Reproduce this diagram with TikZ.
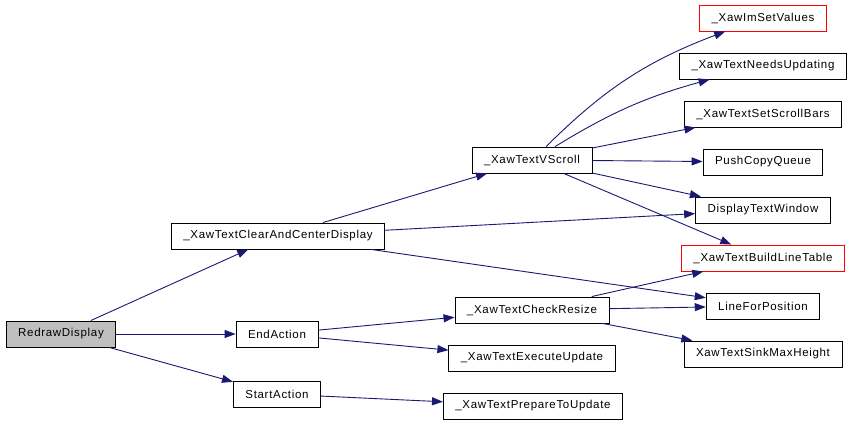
\documentclass[tikz,border=0pt]{standalone}
\usepackage{fontspec}
\setmainfont{Liberation Sans}[LetterSpace=6]
\usepackage{tikz}
\usetikzlibrary{arrows.meta}
\definecolor{edgeblue}{HTML}{191970}
\tikzstyle{arrow} = [edgeblue,line width=0.9pt,->,>={Triangle[length=11pt,width=8pt]}]
\tikzset{
 fn/.style
  = {rectangle, draw=black, line width=0.9pt, fill=white, inner xsep=12pt,
     minimum height=26pt, font=\fontsize{11.5}{13}\selectfont},
 root/.style
  = {fn, fill=black!25},
 ext/.style
  = {fn, draw=red},
}
\begin{document}
\begin{tikzpicture}[x=1pt,y=-1pt]
\useasboundingbox (0,0) rectangle (855,422);

% Caller
\node[root] (redraw) at (61,334) {RedrawDisplay};

% First level
\node[fn] (clear) at (278,236) {\_XawTextClearAndCenterDisplay};
\node[fn] (endact) at (277,334) {EndAction};
\node[fn] (startact) at (277,394) {StartAction};

% Second level
\node[fn] (vscroll) at (532,160) {\_XawTextVScroll};
\node[fn] (resize) at (532,310) {\_XawTextCheckResize};
\node[fn] (execute) at (532,358) {\_XawTextExecuteUpdate};
\node[fn] (prepare) at (533,406) {\_XawTextPrepareToUpdate};

% Third level
\node[ext] (imset) at (763,18) {\_XawImSetValues};
\node[fn] (needs) at (763,66) {\_XawTextNeedsUpdating};
\node[fn] (scrollbars) at (763,114) {\_XawTextSetScrollBars};
\node[fn] (pushcopy) at (763,162) {PushCopyQueue};
\node[fn] (display) at (763,210) {DisplayTextWindow};
\node[ext] (buildline) at (763,258) {\_XawTextBuildLineTable};
\node[fn] (linepos) at (763,306) {LineForPosition};
\node[fn] (sinkmax) at (763,354) {XawTextSinkMaxHeight};

% Calls from RedrawDisplay
\draw[arrow] (redraw) -- (clear);
\draw[arrow] (redraw) -- (endact);
\draw[arrow] (redraw) -- (startact);

% Calls from _XawTextClearAndCenterDisplay
\draw[arrow] (clear) -- (vscroll);
\draw[arrow] (clear) -- (display);
\draw[arrow] (clear) -- (linepos);

% Calls from EndAction and StartAction
\draw[arrow] (endact) -- (resize);
\draw[arrow] (endact) -- (execute);
\draw[arrow] (startact) -- (prepare);

% Calls from _XawTextVScroll
\draw[arrow] (vscroll) to[bend left=12] (imset);
\draw[arrow] (vscroll) to[bend left=8] (needs);
\draw[arrow] (vscroll) -- (scrollbars);
\draw[arrow] (vscroll) -- (pushcopy);
\draw[arrow] (vscroll) -- (display);
\draw[arrow] (vscroll) -- (buildline);

% Calls from _XawTextCheckResize
\draw[arrow] (resize) -- (buildline);
\draw[arrow] (resize) -- (linepos);
\draw[arrow] (resize) -- (sinkmax);

\end{tikzpicture}
\end{document}
